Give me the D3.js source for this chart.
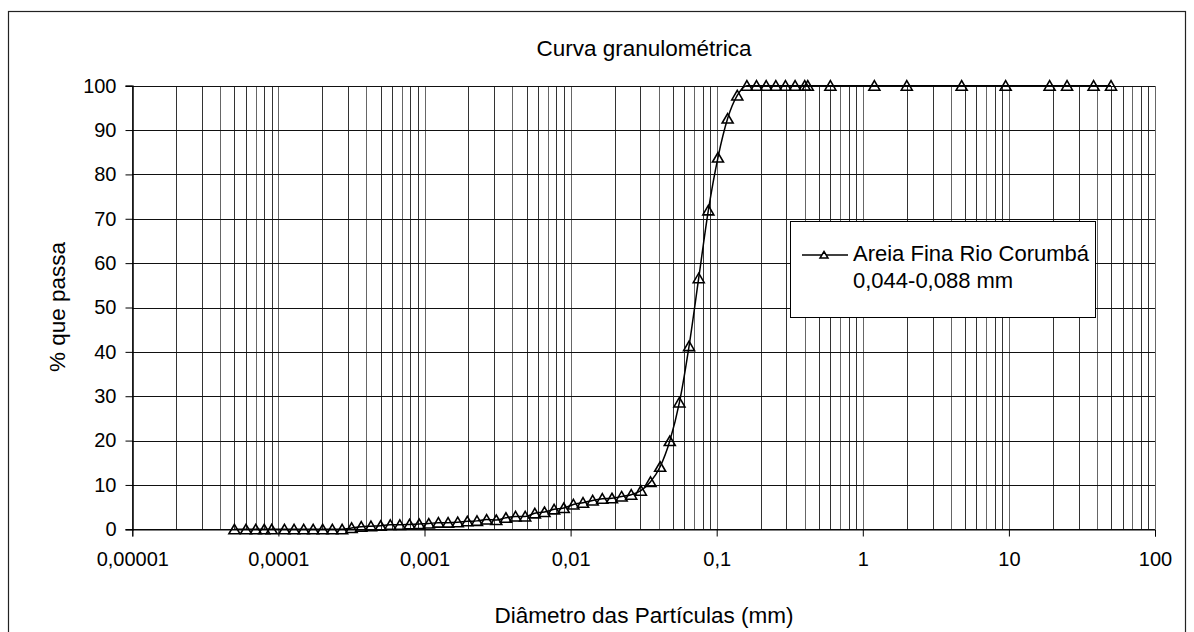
<!DOCTYPE html>
<html>
<head>
<meta charset="utf-8">
<script src="https://cdn.jsdelivr.net/npm/d3@7"></script>
<style>
  body { margin: 0; background: #fff; }
  text { font-family: "Liberation Sans", Arial, sans-serif; fill: #000; }
</style>
</head>
<body>
<svg id="chart" width="1194" height="632"></svg>
<script>
// diametro (mm) - laser + peneiras
var diameters = [
  0.00005, 0.00006, 0.00007, 0.00008, 0.00009,
  0.00011, 0.000128, 0.000149, 0.000173, 0.000201, 0.000234, 0.000273, 0.000317,
  0.000369, 0.00043, 0.000501, 0.000583, 0.000678, 0.00079, 0.000919, 0.00107,
  0.001245, 0.00145, 0.001688, 0.001964, 0.002287, 0.002662, 0.003099, 0.003607,
  0.004199, 0.004888, 0.00569, 0.006624, 0.00771, 0.008975, 0.01045, 0.01216,
  0.01416, 0.01648, 0.01919, 0.02234, 0.026, 0.03027, 0.03523, 0.04101, 0.04774,
  0.05557, 0.06469, 0.0753, 0.08766, 0.102, 0.1188, 0.1383, 0.1609, 0.1873,
  0.2181, 0.2539, 0.2955, 0.344, 0.4005,
  0.42, 0.6, 1.2, 2.0, 4.75, 9.5, 19, 25, 38, 50
];
// % que passa
var passing = [
  0, 0, 0, 0, 0,
  0, 0, 0, 0, 0, 0, 0, 0.3,
  0.6, 0.7, 0.8, 1.0, 1.0, 1.1, 1.2, 1.3,
  1.5, 1.5, 1.6, 1.8, 1.9, 2.2, 2.1, 2.6,
  2.9, 2.9, 3.6, 3.9, 4.5, 4.8, 5.6, 6.0,
  6.5, 6.9, 7.0, 7.4, 7.8, 8.7, 10.7, 14.1, 19.9,
  28.6, 41.3, 56.6, 71.9, 83.8, 92.6, 97.8, 100, 100,
  100, 100, 100, 100, 100,
  100, 100, 100, 100, 100, 100, 100, 100, 100, 100
];

var xTicks = [0.00001, 0.0001, 0.001, 0.01, 0.1, 1, 10, 100];
var xTickLabels = ["0,00001", "0,0001", "0,001", "0,01", "0,1", "1", "10", "100"];
var yTicks = [0, 10, 20, 30, 40, 50, 60, 70, 80, 90, 100];

var seriesName = ["Areia Fina Rio Corumbá", "0,044-0,088 mm"];

var svg = d3.select("#chart");

var x = d3.scaleLog().domain([0.00001, 100]).range([132.3, 1155]);
var y = d3.scaleLinear().domain([0, 100]).range([529.3, 85.7]);

// moldura externa
svg.append("rect")
  .attr("x", 8.5).attr("y", 11.5)
  .attr("width", 1177).attr("height", 640)
  .attr("fill", "none").attr("stroke", "#222").attr("stroke-width", 1.2);

// grade vertical (1..9 em cada decada)
var minor = [];
for (var e = -5; e < 2; e++) {
  for (var m = 1; m <= 9; m++) minor.push(m * Math.pow(10, e));
}
minor.push(100);

svg.append("g")
  .selectAll("line")
  .data(minor)
  .enter().append("line")
  .attr("x1", function(d) { return Math.round(x(d)) + 0.5; })
  .attr("x2", function(d) { return Math.round(x(d)) + 0.5; })
  .attr("y1", y(100)).attr("y2", y(0))
  .attr("stroke", function(d, i) { return i % 3 == 0 ? "#666" : "#333"; })
  .attr("stroke-width", 1)
  .attr("shape-rendering", "crispEdges");

// grade horizontal
svg.append("g")
  .selectAll("line")
  .data(yTicks)
  .enter().append("line")
  .attr("x1", x(0.00001)).attr("x2", x(100))
  .attr("y1", function(d) { return Math.round(y(d)) + 0.5; })
  .attr("y2", function(d) { return Math.round(y(d)) + 0.5; })
  .attr("stroke", "#111")
  .attr("shape-rendering", "crispEdges");

// eixo y
var yAxis = d3.axisLeft(y).tickValues(yTicks).tickSize(7).tickPadding(9)
  .tickFormat(function(d) { return d; });
var gy = svg.append("g").attr("transform", "translate(" + (Math.round(x(0.00001)) + 0.5) + ",0)").call(yAxis);
gy.select(".domain").attr("stroke", "#000").attr("stroke-width", 1.5);
gy.selectAll(".tick line").attr("stroke", "#000");
gy.selectAll(".tick text").style("font-size", "20px").attr("font-family", null);

// eixo x
var xAxis = d3.axisBottom(x).tickValues(xTicks).tickSize(7).tickPadding(15)
  .tickFormat(function(d, i) { return xTickLabels[i]; });
var gx = svg.append("g").attr("transform", "translate(0," + (Math.round(y(0)) + 0.5) + ")").call(xAxis);
gx.select(".domain").attr("stroke", "#000");
gx.selectAll(".tick line").attr("stroke", "#000");
gx.selectAll(".tick text").style("font-size", "20px").attr("font-family", null);

// curva
var pts = diameters.map(function(d, i) { return [d, passing[i]]; });
var line = d3.line()
  .x(function(d) { return x(d[0]); })
  .y(function(d) { return y(d[1]); })
  .curve(d3.curveMonotoneX);

svg.append("path")
  .datum(pts)
  .attr("d", line)
  .attr("fill", "none")
  .attr("stroke", "#000")
  .attr("stroke-width", 1.5);

var tri = "M0,-5L5.5,4.5L-5.5,4.5Z";
svg.append("g")
  .selectAll("path")
  .data(pts)
  .enter().append("path")
  .attr("d", tri)
  .attr("transform", function(d) { return "translate(" + x(d[0]) + "," + y(d[1]) + ")"; })
  .attr("fill", "none")
  .attr("stroke", "#000")
  .attr("stroke-width", 1.6);

// titulos
svg.append("text")
  .attr("x", 644).attr("y", 56)
  .attr("text-anchor", "middle")
  .style("font-size", "22.5px")
  .text("Curva granulométrica");

svg.append("text")
  .attr("x", 644).attr("y", 623)
  .attr("text-anchor", "middle")
  .style("font-size", "22.5px")
  .text("Diâmetro das Partículas (mm)");

svg.append("text")
  .attr("transform", "translate(65,307) rotate(-90)")
  .attr("text-anchor", "middle")
  .style("font-size", "22.5px")
  .text("% que passa");

// legenda
var lg = svg.append("g");
lg.append("rect")
  .attr("x", 790.5).attr("y", 221.5)
  .attr("width", 305).attr("height", 96)
  .attr("fill", "#fff").attr("stroke", "#000");
lg.append("line")
  .attr("x1", 802).attr("x2", 848).attr("y1", 255).attr("y2", 255)
  .attr("stroke", "#000").attr("stroke-width", 1.5);
lg.append("path")
  .attr("d", "M0,-3.5L4,3L-4,3Z")
  .attr("transform", "translate(824,255)")
  .attr("fill", "#fff").attr("stroke", "#000").attr("stroke-width", 1.5);
lg.selectAll("text.leg")
  .data(seriesName)
  .enter().append("text")
  .attr("class", "leg")
  .attr("x", 853)
  .attr("y", function(d, i) { return 261 + i * 27; })
  .style("font-size", "22px")
  .text(function(d) { return d; });
</script>
</body>
</html>
